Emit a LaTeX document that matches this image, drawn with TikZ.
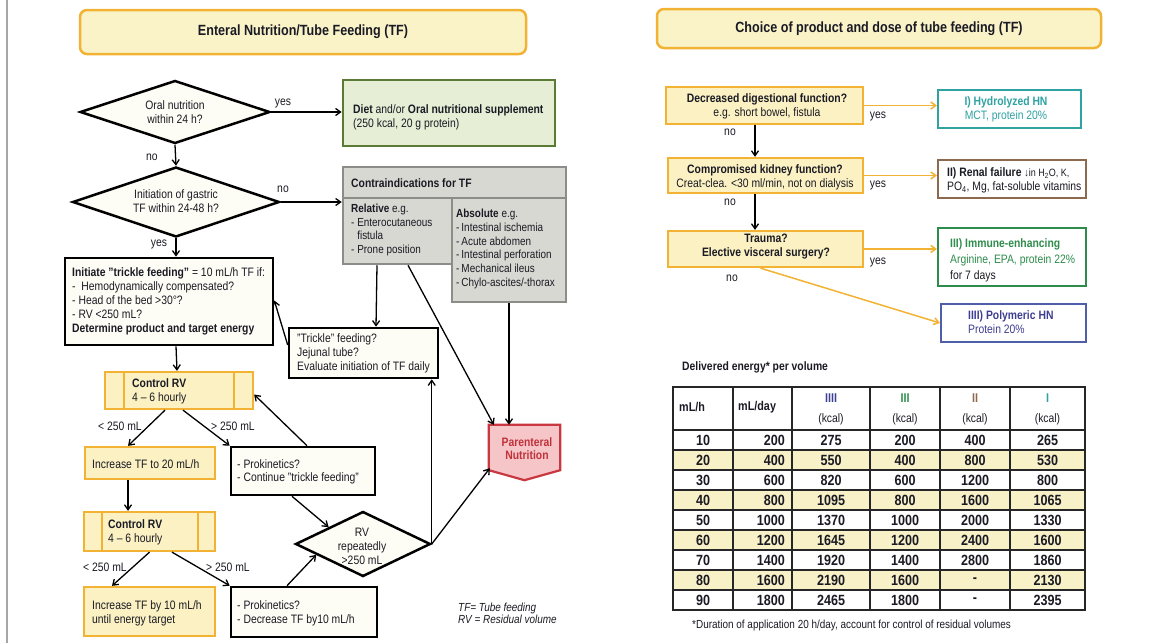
\documentclass[tikz,border=0pt]{standalone}
\usepackage{fontspec}
\setmainfont{Liberation Sans}[FakeStretch=0.85]
\usetikzlibrary{arrows.meta,calc,shapes.geometric}
\definecolor{cgold}{HTML}{F2B233}
\definecolor{cyfill}{HTML}{FBF1C3}
\definecolor{ctfill}{HTML}{FAF3C8}
\definecolor{ccream}{HTML}{FEFDF5}
\definecolor{cdietfill}{HTML}{E6EFD6}
\definecolor{cdietline}{HTML}{5B7A36}
\definecolor{cgrayfill}{HTML}{D8D8D3}
\definecolor{cgrayline}{HTML}{8C8C89}
\definecolor{cpnfill}{HTML}{F5C5C8}
\definecolor{cpnline}{HTML}{C93740}
\definecolor{cpntext}{HTML}{C0323B}
\definecolor{cteal}{HTML}{2FA2A2}
\definecolor{cbrown}{HTML}{8D6A4D}
\definecolor{cgreen}{HTML}{2E8C4C}
\definecolor{cblue}{HTML}{4F5EA9}
\definecolor{cpurple}{HTML}{3E3E92}
\definecolor{ctxt}{HTML}{1A1A24}
\definecolor{crow}{HTML}{F8F0C6}
\tikzset{
  txt/.style={font=\fontsize{12.2}{14}\selectfont, text=ctxt, inner sep=0pt},
  smalltxt/.style={font=\fontsize{11.7}{13.7}\selectfont, text=ctxt, inner sep=0pt},
  ltxt/.style={txt, align=left, anchor=west},
  arr/.style={-{Straight Barb[length=5pt,width=7pt]}, line width=1.3pt, draw=black},
  oarr/.style={arr, draw=cgold, line width=1.5pt},
  titlebox/.style={draw=cgold, line width=2.5pt, fill=ctfill, rounded corners=7pt, font=\fontsize{14.8}{16}\selectfont\bfseries, text=ctxt},
  blackbox/.style={draw=black, line width=2.6pt, fill=ccream, inner sep=0pt},
  yelbox/.style={draw=cgold, line width=2.3pt, fill=cyfill, inner sep=0pt},
  graybox/.style={draw=cgrayline, line width=2.5pt, fill=cgrayfill, inner sep=0pt},
  dia/.style={shape=diamond, draw=black, line width=2.5pt, fill=ccream, inner sep=0pt},
  rbox/.style={line width=2pt, fill=white, inner sep=0pt},
  tabline/.style={line width=2.2pt, draw=black!85, line cap=rect},
  tnum/.style={font=\fontsize{14.8}{16}\selectfont\bfseries, text=ctxt, inner sep=0pt},
  thdr/.style={font=\fontsize{12.7}{14}\selectfont\bfseries, text=ctxt, inner sep=0pt},
}
\begin{document}
\begin{tikzpicture}[x=1pt,y=-1pt]
\useasboundingbox (0,0) rectangle (1154,643);
\draw[gray!70, line width=1.5pt] (7,0) -- (7,643);

% ---------- titles
\node[titlebox, minimum width=446pt, minimum height=44pt] (t1) at (303,32) {Enteral Nutrition/Tube Feeding (TF)};
\node[titlebox, minimum width=444pt, minimum height=39pt] (t2) at (879,28.5) {Choice of product and dose of tube feeding (TF)};

% ---------- left flowchart
\node[dia, minimum width=190pt, minimum height=63pt] (d1) at (175,112) {};
\node[txt, align=center] (d1t) at (175,112.5) {Oral nutrition\\within 24 h?};
\node[dia, minimum width=207pt, minimum height=70pt] (d2) at (176,202) {};
\node[txt, align=center] (d2t) at (176,201.5) {Initiation of gastric\\TF within 24-48 h?};

\node[draw=cdietline, line width=2.6pt, fill=cdietfill, minimum width=212pt, minimum height=66pt] (diet) at (449,113) {};
\node[ltxt, font=\fontsize{12.2}{13.5}\selectfont] (dietT) at (353,117.5) {\textbf{Diet} and/or \textbf{Oral nutritional supplement}\\(250 kcal, 20 g protein)};

\node[graybox, minimum width=223pt, minimum height=31pt] (hdr) at (454.5,182.5) {};
\node[ltxt, font=\fontsize{12.2}{14}\selectfont\bfseries] (hdrT) at (351,183) {Contraindications for TF};
\node[graybox, minimum width=109pt, minimum height=66pt] (rel) at (397.5,231) {};
\node[smalltxt, align=left, anchor=west] (relT) at (351,230) {\textbf{Relative} e.g.\\- Enterocutaneous\\\hphantom{- }fistula\\- Prone position};
\node[graybox, minimum width=114pt, minimum height=104pt] (abs) at (509,250) {};
\node[smalltxt, align=left, anchor=west] (absT) at (456,249) {\textbf{Absolute} e.g.\\-\,Intestinal ischemia\\-\,Acute abdomen\\-\,Intestinal perforation\\-\,Mechanical ileus\\-\,Chylo-ascites/-thorax};

\node[blackbox, minimum width=208pt, minimum height=87pt] (trickle) at (169,301.5) {};
\node[ltxt] (trickleT) at (72,301.5) {\textbf{Initiate "trickle feeding"} = 10 mL/h TF if:\\-~ Hemodynamically compensated?\\- Head of the bed >30°?\\- RV <250 mL?\\\textbf{Determine product and target energy}};

\node[blackbox, minimum width=149pt, minimum height=50pt] (trick2) at (363.5,353) {};
\node[ltxt] (trick2T) at (297,353) {"Trickle" feeding?\\Jejunal tube?\\Evaluate initiation of TF daily};

% Parenteral nutrition
\node[minimum width=71pt, minimum height=55pt, inner sep=0pt] (pn) at (524.5,452.5) {};
\draw[draw=cpnline, fill=cpnfill, line width=2.2pt] (pn.north west) -- (pn.north east) -- ($(pn.south east)+(0,-10)$) -- (pn.south) -- ($(pn.south west)+(0,-10)$) -- cycle;
\node[font=\fontsize{12.2}{13.5}\selectfont\bfseries, text=cpntext, align=center, inner sep=0pt] (pnT) at (527,448.5) {Parenteral\\Nutrition};

% Control RV 1
\node[yelbox, minimum width=148pt, minimum height=37pt] (crv1) at (179,390.5) {};
\draw[cgold, line width=2pt] (124,372) -- (124,409) (234,372) -- (234,409);
\node[ltxt] (crv1T) at (132,391.5) {\textbf{Control RV}\\4 -- 6 hourly};

\node[yelbox, minimum width=130pt, minimum height=32pt] (inc20) at (150,463) {};
\node[ltxt] (inc20T) at (92,464) {Increase TF to 20 mL/h};

\node[blackbox, minimum width=144pt, minimum height=48pt] (pro1) at (303,471) {};
\node[ltxt, font=\fontsize{12.2}{13}\selectfont] (pro1T) at (237,472) {- Prokinetics?\\- Continue "trickle feeding"};

% Control RV 2
\node[yelbox, minimum width=131pt, minimum height=39pt] (crv2) at (149.5,531.5) {};
\draw[cgold, line width=2pt] (102,512) -- (102,551) (198,512) -- (198,551);
\node[ltxt] (crv2T) at (108,532) {\textbf{Control RV}\\4 -- 6 hourly};

\node[yelbox, minimum width=131pt, minimum height=49pt] (inc10) at (149.5,611.5) {};
\node[ltxt] (inc10T) at (92,613) {Increase TF by 10 mL/h\\until energy target};

\node[blackbox, minimum width=146pt, minimum height=50pt] (pro2) at (304,612) {};
\node[ltxt] (pro2T) at (237,613) {- Prokinetics?\\- Decrease TF by10 mL/h};

\node[dia, minimum width=135pt, minimum height=65pt] (rv) at (363,544) {};
\node[txt, align=center] (rvT) at (362,546) {RV\\repeatedly\\>250 mL};

\node[anchor=west, align=left, inner sep=0pt, font=\fontsize{11.7}{11.5}\selectfont\itshape, text=ctxt] (legend) at (458,613.5) {TF= Tube feeding\\RV = Residual volume};

% left connectors
\draw[arr] (d1.east) -- (d1.east -| diet.west);
\draw[arr] (d1.south) -- (d2.north);
\draw[arr] (d2.east) -- (d2.east -| hdr.west);
\draw[arr] (d2.south) -- (d2.south |- trickle.north);
\draw[arr] ($(trickle.south)+(7,0)$) -- ($(crv1.north)+(-2,0)$);
\draw[arr] ($(rel.south)+(-20.5,0)$) -- ($(trick2.north)+(12.5,0)$);
\draw[arr] ($(rel.south)+(10.5,0)$) -- ($(pn.north west)+(5,0)$);
\draw[arr] (abs.south) -- (abs.south |- pn.north);
\draw[arr] ($(trick2.west)+(0,-8)$) -- ($(trickle.east)+(0,-1)$);
\draw[arr] ($(crv1.south)+(-14,0)$) -- ($(inc20.north)+(-22,0)$);
\draw[arr] ($(crv1.south)+(4,0)$) -- (pro1.north west);
\draw[arr] ($(pro1.north)+(4,0)$) -- ($(crv1.east)+(0,4)$);
\draw[arr] ($(inc20.south)+(-22,0)$) -- ($(crv2.north)+(-21.5,0)$);
\draw[arr] (crv2.south) -- ($(inc10.north)+(-37.5,0)$);
\draw[arr] ($(crv2.south)+(22.5,0)$) -- (pro2.north west);
\draw[arr] ($(pro1.south)+(-11,0)$) -- (rv.north west);
\draw[arr] ($(pro2.north)+(-17,0)$) -- ($(rv.west)!0.32!(rv.south)$);
\draw[arr] (rv.east) -- (rv.east |- trick2.south);
\draw[arr] (rv.east) -- ($(pn.south west)+(1,-12)$);

% left labels
\node[txt] (l1) at (283,103) {yes};
\node[txt] (l2) at (152,157) {no};
\node[txt] (l3) at (283,189) {no};
\node[txt] (l4) at (159,244) {yes};
\node[txt] (l5) at (120,426) {< 250 mL};
\node[txt] (l6) at (233,426) {> 250 mL};
\node[txt] (l7) at (105,567) {< 250 mL};
\node[txt] (l8) at (228,567) {> 250 mL};

% ---------- right flowchart
\node[yelbox, minimum width=197pt, minimum height=37pt] (q1) at (764.5,105.5) {};
\node[txt, align=center] (q1T) at (767,106) {\textbf{Decreased digestional function?}\\e.g. short bowel, fistula};
\node[yelbox, minimum width=195pt, minimum height=35pt] (q2) at (765.5,175.5) {};
\node[txt, align=center] (q2T) at (765,177) {\textbf{Compromised kidney function?}\\Creat-clea. <30 ml/min, not on dialysis};
\node[yelbox, minimum width=195pt, minimum height=36pt] (q3) at (765.5,249) {};
\node[txt, align=center] (q3T) at (766,247) {\textbf{Trauma?}\\\textbf{Elective visceral surgery?}};

\node[rbox, draw=cteal, minimum width=143pt, minimum height=38pt] (hydro) at (1009.5,109) {};
\node[txt, align=center, text=cteal] (hydroT) at (1006,109.5) {\textbf{I) Hydrolyzed HN}\\MCT, protein 20\%};
\node[rbox, draw=cbrown, minimum width=148pt, minimum height=38pt] (renal) at (1012,179) {};
\node[ltxt, font=\fontsize{12.2}{13.5}\selectfont] (renalT) at (947,180.5) {\textbf{II) Renal failure} {\fontsize{10.6}{12}\selectfont ↓in H\textsubscript{2}O, K,}\\PO\textsubscript{4}, Mg, fat-soluble vitamins};
\node[rbox, draw=cgreen, minimum width=148pt, minimum height=58pt] (immune) at (1012,257) {};
\node[ltxt, font=\fontsize{12.2}{16}\selectfont] (immuneT) at (950,260.5) {\textcolor{cgreen}{\textbf{III) Immune-enhancing}}\\\textcolor{cgreen}{Arginine, EPA, protein 22\%}\\for 7 days};
\node[rbox, draw=cblue, minimum width=145pt, minimum height=38pt] (poly) at (1013.5,323) {};
\node[ltxt, text=cpurple] (polyT) at (968,322) {\textbf{IIII) Polymeric HN}\\Protein 20\%};

\draw[arr] ($(q1.south)+(-9.5,0)$) -- ($(q2.north)+(-10.5,0)$);
\draw[arr] ($(q2.south)+(-10.5,0)$) -- ($(q3.north)+(-10.5,0)$);
\draw[oarr] (q1.east) -- (q1.east -| hydro.west);
\draw[oarr] (q2.east) -- (q2.east -| renal.west);
\draw[oarr] (q3.east) -- (q3.east -| immune.west);
\draw[oarr] ($(q3.south)+(-5,0)$) -- (poly.west);

\node[txt] (r1) at (878,116) {yes};
\node[txt] (r2) at (730,132) {no};
\node[txt] (r3) at (878,185) {yes};
\node[txt] (r4) at (730,202) {no};
\node[txt] (r5) at (878,262) {yes};
\node[txt] (r6) at (732,278) {no};

% ---------- table
\node[anchor=west, inner sep=0pt, font=\fontsize{12.2}{14}\selectfont\bfseries, text=ctxt] (tabtitle) at (682,367) {Delivered energy* per volume};
\foreach \r in {2,4,6,8} \fill[crow] (673,{430+20*(\r-1)}) rectangle (1085,{430+20*\r});
\draw[tabline] (673,387) -- (1085,387);
\foreach \yy in {430,450,...,610} \draw[tabline] (673,\yy) -- (1085,\yy);
\foreach \xx in {673,733,792,870,940,1010,1085} \draw[tabline] (\xx,387) -- (\xx,610);

\node[thdr, anchor=west] (hA) at (679,407) {mL/h};
\node[thdr, anchor=west] (hB) at (738,407) {mL/day};
\node[thdr, text=cpurple] (hC) at (831,398) {IIII};
\node[thdr, text=cgreen] (hD) at (905,398) {III};
\node[thdr, text=cbrown] (hE) at (975,398) {II};
\node[thdr, text=cteal] (hF) at (1047.5,398) {I};
\foreach \xx/\nm in {831/kc, 905/kd, 975/ke, 1047.5/kf}
  \node[txt] (\nm) at (\xx,419) {(kcal)};

\foreach \r/\a/\b/\c/\d/\e/\f in {1/10/200/275/200/400/265, 2/20/400/550/400/800/530, 3/30/600/820/600/1200/800, 4/40/800/1095/800/1600/1065, 5/50/1000/1370/1000/2000/1330, 6/60/1200/1645/1200/2400/1600, 7/70/1400/1920/1400/2800/1860, 8/80/1600/2190/1600/-/2130, 9/90/1800/2465/1800/-/2395} {
  \node[tnum] (ca\r) at (703,{420+20*\r}) {\a};
  \node[tnum, anchor=east] (cb\r) at (785,{420+20*\r}) {\b};
  \node[tnum] (cc\r) at (831,{420+20*\r}) {\c};
  \node[tnum] (cd\r) at (905,{420+20*\r}) {\d};
  \node[tnum] (ce\r) at (975,{420+20*\r}) {\e};
  \node[tnum] (cf\r) at (1047.5,{420+20*\r}) {\f};
}
\node[anchor=west, inner sep=0pt, font=\fontsize{11.7}{13}\selectfont, text=ctxt] (foot) at (692,625) {*Duration of application 20 h/day, account for control of residual volumes};
\end{tikzpicture}
\end{document}
